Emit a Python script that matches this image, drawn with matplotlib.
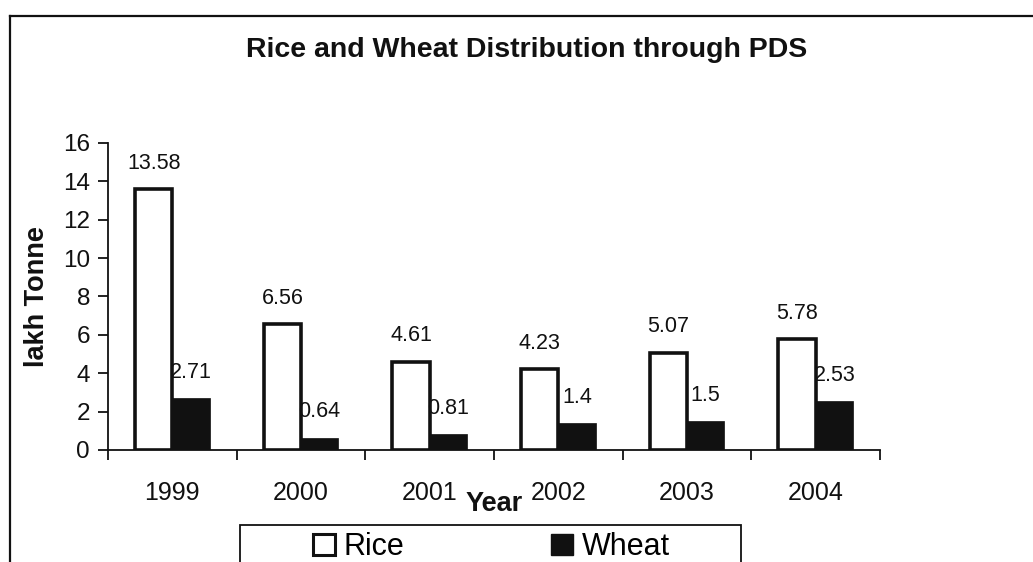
import matplotlib

matplotlib.use("Agg")

import matplotlib.pyplot as plt
import numpy as np
from matplotlib.lines import Line2D
from matplotlib.patches import Patch, Rectangle

years = ["1999", "2000", "2001", "2002", "2003", "2004"]
rice = [13.58, 6.56, 4.61, 4.23, 5.07, 5.78]
wheat = [2.71, 0.64, 0.81, 1.4, 1.5, 2.53]

FONT = ["Liberation Sans", "DejaVu Sans"]
BAR_W = 0.29
INK = "#111111"

plt.rcParams["font.family"] = FONT
plt.rcParams["axes.linewidth"] = 1.3

fig = plt.figure(figsize=(10.33, 5.62), dpi=100)
ax = fig.add_axes([0.1045, 0.1993, 0.7475, 0.5463])

x = np.arange(len(years))
ax.bar(x - BAR_W / 2, rice, width=BAR_W, color="white", edgecolor=INK, linewidth=2.6, zorder=3)
ax.bar(x + BAR_W / 2, wheat, width=BAR_W, color=INK, edgecolor=INK, linewidth=0.5, zorder=3)

for xi, v in zip(x, rice):
    ax.annotate(f"{v:g}", (xi - BAR_W / 2, v), xytext=(0, 11), textcoords="offset points",
                ha="center", va="bottom", fontsize=15.5, color=INK, zorder=5)
for xi, v in zip(x, wheat):
    ax.annotate(f"{v:g}", (xi + BAR_W / 2, v), xytext=(0, 11), textcoords="offset points",
                ha="center", va="bottom", fontsize=15.5, color=INK, zorder=5)

ax.set_xlim(-0.5, len(years) - 0.5)
ax.set_ylim(0, 16)
ax.set_yticks(np.arange(0, 17, 2))
ax.set_xticks(x)
ax.set_xticklabels(years)
ax.set_xticks(np.arange(-0.5, len(years), 1.0), minor=True)
ax.tick_params(axis="x", which="major", length=0, pad=22, labelsize=18, colors=INK)
ax.tick_params(axis="x", which="minor", length=7, width=1.3, direction="out", color=INK)
ax.tick_params(axis="y", length=7, width=1.3, direction="out", pad=6, labelsize=17.5, colors=INK)

for side in ("top", "right"):
    ax.spines[side].set_visible(False)
for side in ("left", "bottom"):
    ax.spines[side].set_color(INK)

ax.set_ylabel("lakh Tonne", fontsize=19.5, fontweight="bold", color=INK, labelpad=9)
ax.set_xlabel("Year", fontsize=19.5, fontweight="bold", color=INK, labelpad=-10)

fig.text(0.51, 0.911, "Rice and Wheat Distribution through PDS", ha="center", va="center",
         fontsize=20.5, fontweight="bold", color=INK)

# outer chart border: only the top and left edges fall inside the image
fig.add_artist(Line2D([0.0097, 1.0], [0.972, 0.972], transform=fig.transFigure, color=INK, lw=1.6))
fig.add_artist(Line2D([0.0097, 0.0097], [0.0, 0.972], transform=fig.transFigure, color=INK, lw=1.6))

# legend frame runs off the bottom edge
fig.add_artist(Rectangle((0.2323, -0.05), 0.4855, 0.1165, transform=fig.transFigure,
                         fill=False, edgecolor=INK, lw=1.3, clip_on=False))
handles = [
    Patch(facecolor="white", edgecolor=INK, linewidth=2.2, label="Rice"),
    Patch(facecolor=INK, edgecolor=INK, label="Wheat"),
]
fig.legend(handles=handles, loc="center", bbox_to_anchor=(0.4758, 0.0265), ncol=2, frameon=False,
           fontsize=22, handlelength=0.7, handleheight=0.7, handletextpad=0.3, columnspacing=4.8,
           borderpad=0.0)

fig.savefig("out.png", dpi=100, facecolor="white")
